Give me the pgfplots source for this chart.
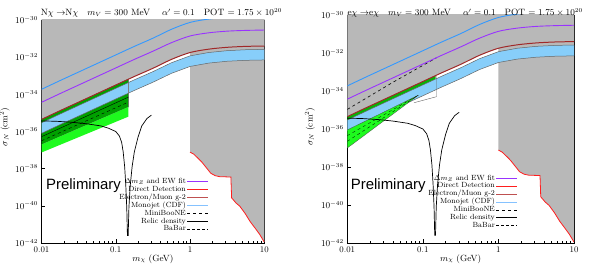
\documentclass[border=0pt]{standalone}
\usepackage{pgfplots}
\pgfplotsset{compat=1.18}
\usepackage{pgfplotstable}
\usepackage{fontspec}
\newfontfamily\prelimfont{Liberation Sans}

\definecolor{bggray}{RGB}{184,184,184}
\definecolor{bandblue}{RGB}{135,206,250}
\definecolor{monoblue}{RGB}{51,153,255}
\definecolor{ewpurple}{RGB}{153,51,255}
\definecolor{gtwored}{RGB}{160,40,40}
\definecolor{gtwoleg}{RGB}{190,80,80}
\definecolor{ddred}{RGB}{255,30,30}
\definecolor{dkgreen}{RGB}{0,160,0}
\definecolor{ltgreen}{RGB}{30,250,30}

% g-2 (electron/muon) boundary, log10 values
\pgfplotstableread{
x y
-2.00 -35.35
-1.75 -34.88
-1.50 -34.42
-1.25 -33.96
-1.00 -33.50
-0.75 -33.04
-0.50 -32.60
-0.25 -32.12
0.00 -31.75
0.25 -31.57
0.50 -31.47
0.75 -31.42
1.00 -31.40
}\gtwo
% gray excluded region above g-2 line
\pgfplotstableread{
x y
-2.00 -29.50
-2.00 -35.35
-1.75 -34.88
-1.50 -34.42
-1.25 -33.96
-1.00 -33.50
-0.75 -33.04
-0.50 -32.60
-0.25 -32.12
0.00 -31.75
0.25 -31.57
0.50 -31.47
0.75 -31.42
1.00 -31.40
1.00 -29.50
}\grayA
\pgfplotstableread{
x y
-2.00 -33.73
-1.75 -33.26
-1.50 -32.80
-1.25 -32.34
-1.00 -31.88
-0.75 -31.42
-0.50 -30.98
-0.25 -30.50
0.00 -30.13
0.25 -29.95
0.50 -29.85
0.75 -29.80
1.00 -29.78
}\monojet
\pgfplotstableread{
x y
-2.00 -34.43
-1.75 -33.96
-1.50 -33.50
-1.25 -33.04
-1.00 -32.58
-0.75 -32.12
-0.50 -31.68
-0.25 -31.22
0.00 -30.86
0.25 -30.69
0.50 -30.60
0.75 -30.56
1.00 -30.54
}\ewfit
\pgfplotstableread{
x y
-2.00 -35.53
-1.75 -35.06
-1.50 -34.60
-1.25 -34.14
-1.00 -33.68
-0.75 -33.22
-0.50 -32.78
-0.25 -32.30
0.00 -31.93
0.25 -31.75
0.50 -31.65
0.75 -31.60
1.00 -31.58
}\bandtop
\pgfplotstableread{
x y
-2.00 -36.10
-1.75 -35.63
-1.50 -35.17
-1.25 -34.71
-1.00 -34.25
-0.75 -33.79
-0.50 -33.35
-0.25 -32.87
0.00 -32.50
0.25 -32.32
0.50 -32.22
0.75 -32.17
1.00 -32.15
}\bandbot
% blue band as closed polygon
\pgfplotstableread{
x y
-2.00 -35.53
-1.75 -35.06
-1.50 -34.60
-1.25 -34.14
-1.00 -33.68
-0.75 -33.22
-0.50 -32.78
-0.25 -32.30
0.00 -31.93
0.25 -31.75
0.50 -31.65
0.75 -31.60
1.00 -31.58
1.00 -32.15
0.75 -32.17
0.50 -32.22
0.25 -32.32
0.00 -32.50
-0.25 -32.87
-0.50 -33.35
-0.75 -33.79
-1.00 -34.25
-1.25 -34.71
-1.50 -35.17
-1.75 -35.63
-2.00 -36.10
}\band
\pgfplotstableread{
x y
0.00 -37.11
0.05 -37.22
0.11 -37.45
0.16 -37.65
0.22 -37.95
0.28 -38.25
0.34 -38.38
0.40 -38.43
0.55 -38.45
0.56 -39.57
0.62 -39.85
0.67 -40.02
0.74 -40.40
0.81 -40.85
0.88 -41.22
0.94 -41.55
1.00 -41.95
}\dd
% gray region above direct detection, m > 1 GeV
\pgfplotstableread{
x y
0.00 -29.50
0.00 -37.11
0.05 -37.22
0.11 -37.45
0.16 -37.65
0.22 -37.95
0.28 -38.25
0.34 -38.38
0.40 -38.43
0.55 -38.45
0.56 -39.57
0.62 -39.85
0.67 -40.02
0.74 -40.40
0.81 -40.85
0.88 -41.22
0.94 -41.55
1.00 -41.95
1.00 -29.50
}\grayB
\pgfplotstableread{
x y
-2.00 -35.43
-1.80 -35.45
-1.60 -35.50
-1.40 -35.58
-1.20 -35.70
-1.10 -35.82
-1.00 -36.00
-0.95 -36.25
-0.92 -36.60
-0.90 -37.10
-0.88 -37.90
-0.865 -38.90
-0.852 -40.10
-0.843 -41.60
-0.833 -41.60
-0.823 -40.10
-0.805 -38.90
-0.78 -37.90
-0.75 -37.10
-0.70 -36.30
-0.65 -35.70
-0.58 -35.30
-0.52 -35.12
}\relic

\pgfplotsset{
  common/.style={
    anchor=south west, scale only axis,
    xmin=-2, xmax=1, ymin=-42, ymax=-30,
    xtick={-2,-1,0,1}, xticklabels={0.01,0.1,1,10},
    minor xtick={-1.69897,-1.52288,-1.39794,-1.30103,-1.22185,-1.15490,-1.09691,-1.04576,
      -0.69897,-0.52288,-0.39794,-0.30103,-0.22185,-0.15490,-0.09691,-0.04576,
      0.30103,0.47712,0.60206,0.69897,0.77815,0.84510,0.90309,0.95424},
    ytick={-42,-40,-38,-36,-34,-32,-30},
    yticklabels={$10^{-42}$,$10^{-40}$,$10^{-38}$,$10^{-36}$,$10^{-34}$,$10^{-32}$,$10^{-30}$},
    tick align=inside, major tick length=4bp, minor tick length=2bp,
    tick style={black, line width=0.4pt},
    axis line style={black, line width=0.5pt},
    tick label style={font=\fontsize{8.6}{9}\selectfont},
    xlabel={$m_\chi$ (GeV)},
    ylabel={$\sigma_N$ (cm$^2$)},
    label style={font=\fontsize{9}{10}\selectfont},
    xlabel style={at={(axis description cs:0.5,0)}, anchor=base, yshift=-18bp},
    legend cell align=right,
    legend plot pos=right,
    legend image code/.code={\draw[#1] (0bp,0bp) -- (21bp,0bp);},
    legend style={draw=none, fill=none, anchor=north east,
      font=\fontsize{7.5}{8}\selectfont,
      nodes={inner xsep=1pt, inner ysep=0pt, text height=5.4pt, text depth=1.9pt},
      row sep=0.6pt,
      /tikz/every even column/.append style={column sep=1bp}},
  }
}

\begin{document}
\begin{tikzpicture}
\useasboundingbox (0,0) rectangle (599bp,265bp);

% ---------------- left panel ----------------
\begin{axis}[common, at={(41.5bp,22bp)}, width=222.8bp, height=223bp,
  ylabel style={at={(axis description cs:-0.165,0.52)}, anchor=center},
  legend style={at={(axis description cs:0.765,0.30)}}]
\addplot[fill=bggray, draw=none, forget plot] table {\grayA};
\addplot[fill=bggray, draw=none, forget plot] table {\grayB};
% green regions
\addplot[fill=dkgreen, draw=black!70, line width=0.3pt, forget plot] coordinates
  {(-2,-35.35) (-1.5,-34.42) (-1,-33.50) (-0.83,-33.18) (-0.83,-34.68) (-2,-36.70) (-2,-35.35)};
\addplot[fill=ltgreen, draw=none, forget plot] coordinates
  {(-2,-36.70) (-0.83,-34.68) (-0.83,-35.20) (-2,-37.13) (-2,-36.70)};
\addplot[black, line width=0.4pt, forget plot] coordinates {(-2,-36.28) (-0.83,-34.15)};
\addplot[black, line width=0.4pt, dashed, forget plot] coordinates {(-2,-36.50) (-0.83,-34.42)};
% blue band
\addplot[fill=bandblue, draw=none, forget plot] table {\band};
\addplot[black!60, line width=0.5pt, forget plot] table {\bandtop};
\addplot[black!60, line width=0.5pt, forget plot] table {\bandbot};
\addplot[black!50, line width=0.4pt, forget plot] coordinates {(-0.83,-33.38) (-0.83,-33.94)};
% lines
\addplot[monoblue, line width=0.9pt, smooth, forget plot] table {\monojet};
\addplot[ewpurple, line width=0.9pt, smooth, forget plot] table {\ewfit};
\addplot[gtwored, line width=1.0pt, smooth, forget plot] table {\gtwo};
\addplot[ddred, line width=0.8pt, forget plot] table {\dd};
\addplot[black, line width=0.7pt, forget plot] table {\relic};
\node[anchor=base west, font=\prelimfont\fontsize{15}{15}\selectfont, inner sep=0pt] at (axis cs:-1.94,-39.14) {Preliminary};
% legend
\addlegendimage{ewpurple, line width=0.9pt}
\addlegendentry{$\Delta m_Z$ and EW fit}
\addlegendimage{ddred, line width=0.8pt}
\addlegendentry{Direct Detection}
\addlegendimage{gtwoleg, line width=0.9pt}
\addlegendentry{Electron/Muon g-2}
\addlegendimage{monoblue!60, line width=0.9pt}
\addlegendentry{Monojet (CDF)}
\addlegendimage{black, dashed, line width=0.5pt}
\addlegendentry{MiniBooNE}
\addlegendimage{black, line width=0.7pt}
\addlegendentry{Relic density}
\addlegendimage{black, densely dashed, line width=0.3pt}
\addlegendentry{BaBar}
\end{axis}

% ---------------- right panel ----------------
\begin{axis}[common, at={(347.3bp,22bp)}, width=226.7bp, height=228bp,
  ylabel style={at={(axis description cs:-0.1645,0.51)}, anchor=center},
  legend style={at={(axis description cs:0.766,0.309)}}]
\addplot[fill=bggray, draw=none, forget plot] table {\grayA};
\addplot[fill=bggray, draw=none, forget plot] table {\grayB};
% green regions
\addplot[fill=dkgreen!80!ltgreen, draw=none, forget plot] coordinates
  {(-2,-35.35) (-1.5,-34.42) (-1,-33.50) (-0.83,-33.18) (-0.83,-33.40) (-2,-35.55) (-2,-35.35)};
% blue band
\addplot[fill=bandblue, draw=none, forget plot] table {\band};
\addplot[black!60, line width=0.5pt, forget plot] table {\bandtop};
\addplot[black!60, line width=0.5pt, forget plot] table {\bandbot};
\addplot[fill=ltgreen, draw=black!70, line width=0.3pt, forget plot] coordinates
  {(-2,-36.05) (-1.06,-34.22) (-2,-37.00) (-2,-36.05)};
\addplot[black, line width=0.3pt, dashed, forget plot] coordinates {(-2,-36.35) (-1.06,-34.22)};
\addplot[black, line width=0.3pt, dashed, forget plot] coordinates {(-2,-36.65) (-1.06,-34.22)};
\addplot[black!60, line width=0.4pt, forget plot] coordinates {(-0.82,-33.20) (-0.82,-34.30) (-1.12,-34.62)};
% lines
\addplot[black, dashed, line width=0.6pt, forget plot] coordinates {(-2,-34.97) (-1.4,-33.55) (-0.82,-32.25)};
\addplot[monoblue, line width=0.9pt, smooth, forget plot] table {\monojet};
\addplot[ewpurple, line width=0.9pt, smooth, forget plot] table {\ewfit};
\addplot[gtwored, line width=1.0pt, smooth, forget plot] table {\gtwo};
\addplot[ddred, line width=0.8pt, forget plot] table {\dd};
\addplot[black, line width=0.7pt, forget plot] table {\relic};
\node[anchor=base west, font=\prelimfont\fontsize{15}{15}\selectfont, inner sep=0pt] at (axis cs:-1.955,-39.21) {Preliminary};
\addlegendimage{ewpurple, line width=0.9pt}
\addlegendentry{$\Delta m_Z$ and EW fit}
\addlegendimage{ddred, line width=0.8pt}
\addlegendentry{Direct Detection}
\addlegendimage{gtwoleg, line width=0.9pt}
\addlegendentry{Electron/Muon g-2}
\addlegendimage{monoblue!60, line width=0.9pt}
\addlegendentry{Monojet (CDF)}
\addlegendimage{black, dashed, line width=0.5pt}
\addlegendentry{MiniBooNE}
\addlegendimage{black, line width=0.7pt}
\addlegendentry{Relic density}
\addlegendimage{black, densely dashed, line width=0.3pt}
\addlegendentry{BaBar}
\end{axis}

% titles
\node[anchor=base west, inner sep=0pt, font=\fontsize{9.2}{10}\selectfont] at (40.7bp,249bp)
  {N$\chi\rightarrow$N$\chi$\hspace{9bp}$m_{V}=300$ MeV\hspace{12bp}$\alpha'=0.1$\hspace{9bp}POT $=1.75\times10^{20}$};
\node[anchor=base west, inner sep=0pt, font=\fontsize{9.2}{10}\selectfont] at (347.3bp,249bp)
  {e$\chi\rightarrow$e$\chi$\hspace{9bp}$m_{V}=300$ MeV\hspace{12bp}$\alpha'=0.1$\hspace{9bp}POT $=1.75\times10^{20}$};
\end{tikzpicture}
\end{document}
